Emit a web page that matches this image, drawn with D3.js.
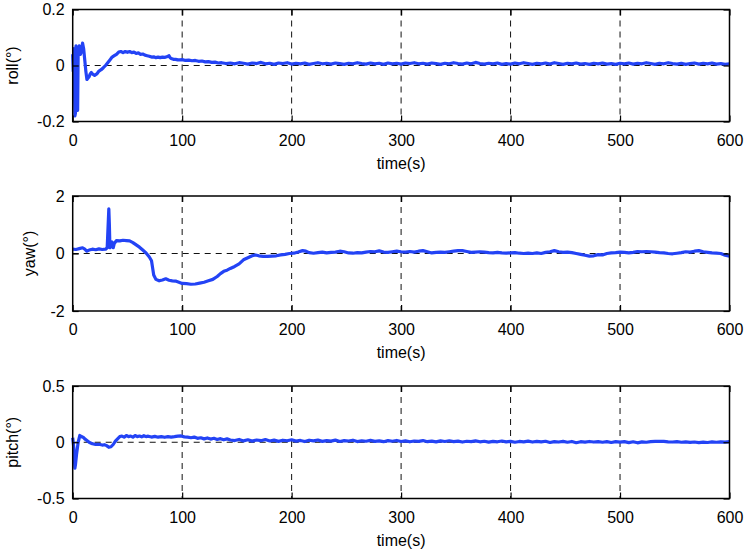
<!DOCTYPE html>
<html>
  <head>
    <meta charset="utf-8" />
    <script src="https://d3js.org/d3.v7.min.js"></script>
    <style>
      body { margin: 0; background: #fff; }
      text { font-family: "Liberation Sans", Arial, sans-serif; font-size: 16px; fill: #000; }
      line.grid { stroke: #111; stroke-width: 1px; stroke-dasharray: 6 5; }
    </style>
  </head>
  <body>
    <svg id="chart" width="744" height="553"></svg>
    <script>
      // x axis (shared by all three panels)
      const timeTicks = [0, 100, 200, 300, 400, 500, 600];

      // roll(°) : [time, value]
      const roll = [
        [0, 0.04], [0.5, -0.02], [1, 0.06], [1.5, -0.05], [2, -0.18], [2.5, -0.17], [3, 0.07], [3.5, 0.06],
        [4, -0.1], [4.5, -0.16], [5, 0.05], [6, 0.07], [7, 0.04], [8, 0.05], [9, 0.08], [10, 0.06],
        [11, 0.02], [12, -0.02], [13, -0.05], [14, -0.045], [15, -0.04], [16, -0.03], [17, -0.025], [18, -0.03],
        [20, -0.035], [22, -0.03], [24, -0.02], [26, -0.015], [28, -0.008], [30, 0.0], [32, 0.01], [34, 0.02],
        [36, 0.03], [38, 0.035], [40, 0.04], [42, 0.048], [44, 0.05], [46, 0.046], [48, 0.05], [50, 0.047],
        [52, 0.05], [54, 0.046], [56, 0.048], [58, 0.043], [60, 0.045], [62, 0.04], [64, 0.041], [66, 0.037],
        [68, 0.035], [70, 0.033], [72, 0.03], [74, 0.031], [76, 0.028], [78, 0.03], [80, 0.028], [82, 0.03],
        [84, 0.029], [86, 0.031], [88, 0.035], [89, 0.028], [90, 0.025], [92, 0.022], [94, 0.022], [96, 0.02],
        [98, 0.02], [100, 0.021], [103, 0.018], [106, 0.019], [109, 0.017], [112, 0.018], [115, 0.015], [118, 0.016],
        [121, 0.013], [124, 0.014], [127, 0.011], [130, 0.012], [133, 0.009],
        [136, 0.010], [140, 0.007], [144, 0.009], [148, 0.006], [152, 0.010], [156, 0.008], [160, 0.005], [164, 0.009],
        [168, 0.007], [172, 0.011], [176, 0.006], [180, 0.008], [184, 0.004], [188, 0.009], [192, 0.007], [196, 0.010],
        [200, 0.005], [204, 0.008], [208, 0.006], [212, 0.009], [216, 0.004], [220, 0.007], [224, 0.010], [228, 0.006],
        [232, 0.008], [236, 0.005], [240, 0.009], [244, 0.007], [248, 0.004], [252, 0.008], [256, 0.006], [260, 0.010],
        [264, 0.007], [268, 0.005], [272, 0.009], [276, 0.006], [280, 0.008], [284, 0.004], [288, 0.009], [292, 0.006],
        [296, 0.008], [300, 0.005], [304, 0.009], [308, 0.007], [312, 0.010], [316, 0.006], [320, 0.008], [324, 0.005],
        [328, 0.009], [332, 0.007], [336, 0.004], [340, 0.008], [344, 0.006], [348, 0.010], [352, 0.007], [356, 0.005],
        [360, 0.009], [364, 0.006], [368, 0.011], [372, 0.007], [376, 0.005], [380, 0.008], [384, 0.006], [388, 0.009],
        [392, 0.004], [396, 0.007], [400, 0.005], [404, 0.009], [408, 0.006], [412, 0.010], [416, 0.007], [420, 0.004],
        [424, 0.008], [428, 0.006], [432, 0.009], [436, 0.005], [440, 0.010], [444, 0.007], [448, 0.004], [452, 0.008],
        [456, 0.006], [460, 0.009], [464, 0.005], [468, 0.007], [472, 0.004], [476, 0.008], [480, 0.006], [484, 0.009],
        [488, 0.005], [492, 0.007], [496, 0.004], [500, 0.008], [504, 0.006], [508, 0.009], [512, 0.005], [516, 0.008],
        [520, 0.006], [524, 0.010], [528, 0.007], [532, 0.004], [536, 0.008], [540, 0.006], [544, 0.010], [548, 0.007],
        [552, 0.005], [556, 0.008], [560, 0.004], [564, 0.007], [568, 0.009], [572, 0.005], [576, 0.008], [580, 0.006],
        [584, 0.009], [588, 0.005], [592, 0.007], [596, 0.004], [600, 0.006]
      ];

      // yaw(°)
      const yaw = [
        [0, 0.15], [3, 0.14], [6, 0.17], [9, 0.2], [11, 0.15], [13, 0.08], [15, 0.12], [18, 0.15],
        [21, 0.13], [24, 0.16], [27, 0.14], [30, 0.15], [31.5, 0.2], [32.5, 1.1], [33, 1.55], [33.5, 1.0],
        [34, 0.2], [35, 0.25], [36, 0.4], [37, 0.2], [38, 0.35], [40, 0.45], [43, 0.44], [46, 0.46],
        [49, 0.45], [52, 0.44], [55, 0.38], [58, 0.3], [61, 0.22], [64, 0.12], [67, 0.02], [70, -0.12],
        [72, -0.25], [73, -0.5], [74, -0.75], [76, -0.9], [79, -0.95], [82, -0.92], [85, -0.88], [88, -0.93],
        [91, -0.95], [94, -0.96], [97, -1.0], [100, -1.04], [104, -1.05], [108, -1.07], [112, -1.06], [116, -1.03],
        [120, -1.0], [124, -0.95], [128, -0.9], [132, -0.8], [135, -0.7], [138, -0.62], [141, -0.58], [144, -0.52],
        [148, -0.45], [152, -0.36], [156, -0.22], [160, -0.15], [164, -0.08], [167, -0.05], [170, -0.08], [174, -0.1],
        [178, -0.1], [182, -0.09], [186, -0.08], [190, -0.05], [194, -0.03], [198, 0.0], [202, 0.01], [206, 0.05],
        [210, 0.1], [213, 0.08], [216, 0.03], [220, 0.01], [224, 0.03], [228, 0.05], [232, 0.02], [236, 0.04],
        [240, 0.05], [244, 0.08], [248, 0.06], [252, 0.02], [256, 0.01], [260, 0.03], [264, 0.02], [268, 0.05],
        [272, 0.07], [276, 0.06], [280, 0.09], [284, 0.05], [288, 0.04], [292, 0.06], [296, 0.08], [300, 0.06],
        [304, 0.05], [308, 0.07], [312, 0.05], [316, 0.08], [320, 0.1], [324, 0.06], [328, 0.02], [332, 0.04],
        [336, 0.05], [340, 0.04], [344, 0.06], [348, 0.08], [352, 0.1], [356, 0.1], [360, 0.07], [364, 0.04],
        [368, 0.05], [372, 0.06], [376, 0.05], [380, 0.03], [384, 0.02], [388, 0.04], [392, 0.02], [396, 0.01],
        [400, 0.02], [404, 0.03], [408, 0.01], [412, 0.0], [416, 0.01], [420, 0.0], [424, 0.02], [428, 0.0],
        [432, 0.04], [436, 0.06], [440, 0.1], [444, 0.06], [448, 0.04], [452, 0.05], [456, 0.03], [460, 0.0],
        [464, -0.03], [468, -0.06], [472, -0.09], [476, -0.08], [480, -0.04], [484, -0.05], [488, 0.0], [492, 0.02],
        [496, 0.03], [500, 0.05], [504, 0.04], [508, 0.02], [512, 0.04], [516, 0.07], [520, 0.06], [524, 0.07],
        [528, 0.06], [532, 0.05], [536, 0.03], [540, 0.02], [544, 0.0], [548, -0.01], [552, 0.01], [556, 0.03],
        [560, 0.06], [564, 0.05], [568, 0.08], [572, 0.1], [576, 0.06], [580, 0.04], [584, 0.02], [588, 0.01],
        [592, 0.0], [596, -0.06], [600, -0.09]
      ];

      // pitch(°)
      const pitch = [
        [0, 0.04], [1, -0.05], [2, -0.23], [2.5, -0.2], [3.5, -0.11], [5, 0.0], [6.5, 0.06], [8, 0.05],
        [9.5, 0.045], [11, 0.03], [13, 0.015], [15, 0.0], [17, -0.01], [19, -0.015], [21, -0.02], [23, -0.018],
        [25, -0.02], [27, -0.025], [29, -0.022], [31, -0.03], [33, -0.045], [35, -0.04], [37, -0.02], [39, 0.01],
        [41, 0.03], [43, 0.05], [45, 0.055], [47, 0.045], [49, 0.06], [51, 0.05], [53, 0.055], [55, 0.045],
        [57, 0.06], [59, 0.05], [61, 0.055], [63, 0.048], [65, 0.058], [67, 0.05], [69, 0.054], [72, 0.046],
        [75, 0.052], [78, 0.045], [81, 0.05], [84, 0.044], [87, 0.05], [90, 0.046], [93, 0.05], [96, 0.055],
        [99, 0.056], [102, 0.048], [105, 0.045], [108, 0.04], [111, 0.046], [114, 0.035], [117, 0.04], [120, 0.03],
        [123, 0.038], [126, 0.028], [129, 0.035], [132, 0.025], [135, 0.032], [138, 0.022], [141, 0.03], [144, 0.02],
        [148, 0.015], [152, 0.025], [156, 0.012], [160, 0.022], [164, 0.010], [168, 0.020], [172, 0.014], [176, 0.024],
        [180, 0.011], [184, 0.019], [188, 0.008], [192, 0.018], [196, 0.013], [200, 0.022], [204, 0.010], [208, 0.016],
        [212, 0.006], [216, 0.018], [220, 0.012], [224, 0.020], [228, 0.008], [232, 0.015], [236, 0.010], [240, 0.019],
        [244, 0.007], [248, 0.014], [252, 0.011], [256, 0.018], [260, 0.006], [264, 0.013], [268, 0.009], [272, 0.017],
        [276, 0.008], [280, 0.012], [284, 0.005], [288, 0.014], [292, 0.009], [296, 0.016], [300, 0.007], [304, 0.012],
        [308, 0.004], [312, 0.011], [316, 0.008], [320, 0.015], [324, 0.005], [328, 0.010], [332, 0.003], [336, 0.012],
        [340, 0.007], [344, 0.013], [348, 0.005], [352, 0.010], [356, 0.002], [360, 0.009], [364, 0.006], [368, 0.012],
        [372, 0.004], [376, 0.009], [380, 0.001], [384, 0.008], [388, 0.004], [392, 0.011], [396, 0.003], [400, 0.008],
        [404, 0.000], [408, 0.007], [412, 0.004], [416, 0.010], [420, 0.002], [424, 0.008], [428, 0.003], [432, 0.009],
        [436, -0.002], [440, 0.006], [444, 0.002], [448, 0.008], [452, 0.000], [456, 0.007], [460, -0.004], [464, 0.005],
        [468, 0.001], [472, 0.007], [476, 0.002], [480, 0.006], [484, 0.000], [488, 0.006], [492, -0.002], [496, 0.005],
        [500, 0.001], [504, 0.006], [508, -0.003], [512, 0.004], [516, -0.005], [520, 0.003], [524, 0.000], [528, 0.006],
        [532, 0.008], [536, 0.009], [540, 0.007], [544, 0.004], [548, 0.002], [552, 0.005], [556, 0.000], [560, 0.003],
        [564, -0.001], [568, 0.002], [572, -0.004], [576, 0.001], [580, -0.002], [584, 0.003], [588, 0.000], [592, 0.004],
        [596, 0.001], [600, 0.005]
      ];

      const rollTicks = [-0.2, 0, 0.2];
      const yawTicks = [-2, 0, 2];
      const pitchTicks = [-0.5, 0, 0.5];

      const panels = [
        { label: "roll(°)", data: roll, ticks: rollTicks, top: 9.5, bottom: 121.5, labelX: 18 },
        { label: "yaw(°)", data: yaw, ticks: yawTicks, top: 196, bottom: 311, labelX: 34.5 },
        { label: "pitch(°)", data: pitch, ticks: pitchTicks, top: 386, bottom: 498.5, labelX: 18 }
      ];

      const svg = d3.select("#chart");
      const left = 72.7, right = 729.5;

      const x = d3.scaleLinear().domain([0, 600]).range([left, right]);

      panels.forEach((p) => {
        const y = d3.scaleLinear()
          .domain([p.ticks[0], p.ticks[2]])
          .range([p.bottom, p.top]);
        const g = svg.append("g");

        // dashed grid: vertical at inner x ticks, horizontal at 0
        g.selectAll("line.vgrid")
          .data(timeTicks.slice(1, -1))
          .join("line")
          .attr("class", "grid")
          .attr("x1", (d) => x(d)).attr("x2", (d) => x(d))
          .attr("y1", p.top).attr("y2", p.bottom);
        g.append("line")
          .attr("class", "grid")
          .attr("x1", left).attr("x2", right)
          .attr("y1", y(0)).attr("y2", y(0));

        // data line
        const line = d3.line().x((d) => x(d[0])).y((d) => y(d[1]));
        g.append("path")
          .datum(p.data)
          .attr("d", line)
          .attr("fill", "none")
          .attr("stroke", "#2343f5")
          .attr("stroke-width", 3.2)
          .attr("stroke-linejoin", "round");

        // axes, MATLAB-style: ticks inside, box around
        const xb = d3.axisBottom(x).tickValues(timeTicks).tickSizeInner(-6).tickSizeOuter(0).tickPadding(13);
        const xt = d3.axisTop(x).tickValues(timeTicks).tickSizeInner(-6).tickSizeOuter(0).tickFormat("");
        const yl = d3.axisLeft(y).tickValues(p.ticks).tickSizeInner(-6).tickSizeOuter(0).tickPadding(8)
          .tickFormat((d) => String(d));
        const yr = d3.axisRight(y).tickValues(p.ticks).tickSizeInner(-6).tickSizeOuter(0).tickFormat("");

        const styleAxis = (sel) => {
          sel.select(".domain").remove();
          sel.selectAll(".tick line").attr("stroke", "#000").attr("stroke-width", 1.2);
          sel.selectAll("text").attr("font-size", 16).attr("font-family", "Liberation Sans, Arial, sans-serif").attr("fill", "#000");
        };
        g.append("g").attr("transform", `translate(0,${p.bottom})`).call(xb).call(styleAxis);
        g.append("g").attr("transform", `translate(0,${p.top})`).call(xt).call(styleAxis);
        g.append("g").attr("transform", `translate(${left},0)`).call(yl).call(styleAxis);
        g.append("g").attr("transform", `translate(${right},0)`).call(yr).call(styleAxis);

        g.append("rect")
          .attr("x", left).attr("y", p.top)
          .attr("width", right - left).attr("height", p.bottom - p.top)
          .attr("fill", "none").attr("stroke", "#000").attr("stroke-width", 1.5);

        // labels
        g.append("text")
          .attr("x", (left + right) / 2)
          .attr("y", p.bottom + 47)
          .attr("text-anchor", "middle")
          .text("time(s)");
        g.append("text")
          .attr("transform", `translate(${p.labelX},${(p.top + p.bottom) / 2}) rotate(-90)`)
          .attr("text-anchor", "middle")
          .text(p.label);
      });
    </script>
  </body>
</html>
